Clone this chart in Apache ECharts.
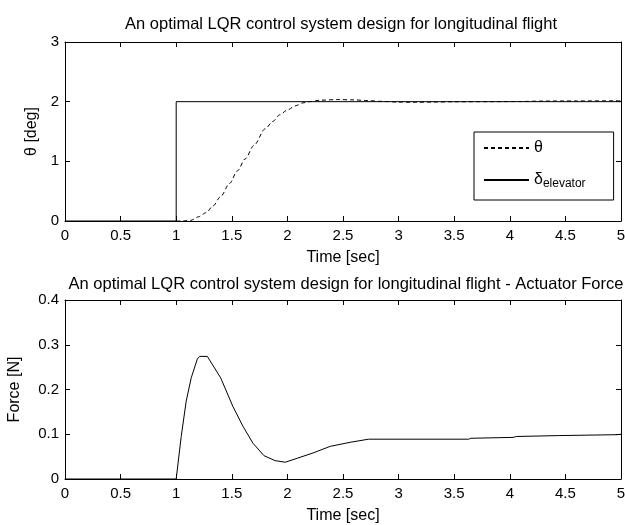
<!DOCTYPE html>
<html>
<head>
<meta charset="utf-8">
<script src="https://cdn.jsdelivr.net/npm/echarts@6/dist/echarts.min.js"></script>
<style>
  html, body { margin: 0; padding: 0; background: #fff; }
  #chart { width: 625px; height: 525px; }
</style>
</head>
<body>
<div id="chart"></div>
<script>
// time axis ticks
var xTicks = [0, 0.5, 1, 1.5, 2, 2.5, 3, 3.5, 4, 4.5, 5];

// pitch angle theta [deg]
var thetaT = [1.0, 1.06, 1.13, 1.2, 1.27, 1.33, 1.4, 1.48, 1.55, 1.62, 1.7, 1.8, 1.87, 1.93, 2.0, 2.07, 2.14, 2.2,
  2.3, 2.45, 2.6, 2.7, 2.85, 3.0, 3.15, 3.3, 3.5, 3.8, 4.1, 4.3, 4.6, 5.0];
var theta = [0, 0.0, 0.01, 0.07, 0.14, 0.25, 0.41, 0.63, 0.84, 1.04, 1.27, 1.545, 1.67, 1.78, 1.86, 1.93, 1.98, 2.0,
  2.025, 2.035, 2.03, 2.02, 2.005, 1.993, 1.99, 1.993, 1.998, 2.0, 2.003, 2.01, 2.012, 2.015];

// elevator command (step)
var deltaT = [0, 1, 1, 5];
var delta = [0, 0, 2, 2];

// actuator force [N]
var forceT = [0, 1.0, 1.045, 1.09, 1.135, 1.19, 1.21, 1.28, 1.4, 1.51, 1.6, 1.69, 1.79, 1.89, 1.98, 2.09, 2.24,
  2.385, 2.565, 2.73, 3.63, 3.65, 4.03, 4.06, 4.44, 4.45, 4.96, 5.0];
var force = [0, 0, 0.095, 0.174, 0.226, 0.268, 0.274, 0.274, 0.226, 0.162, 0.118, 0.080, 0.052, 0.041, 0.0375, 0.0465, 0.059,
  0.073, 0.082, 0.089, 0.089, 0.091, 0.093, 0.095, 0.097, 0.099, 0.099, 0.1];

function pairs(xs, ys) {
  return xs.map(function (x, i) { return [x, ys[i]]; });
}

var FONT = 'Liberation Sans';
var chart = echarts.init(document.getElementById('chart'));

function xAx(grid, pos, labels, name, gap) {
  return {
    type: 'value', gridIndex: grid, position: pos, min: 0, max: 5, interval: 0.5,
    axisLine: { show: true, onZero: false, lineStyle: { color: '#000', width: 1 } },
    axisTick: { show: true, inside: true, length: 5, lineStyle: { color: '#000' } },
    axisLabel: { show: labels, color: '#000', fontFamily: FONT, fontSize: 15, margin: 7 },
    splitLine: { show: false },
    name: name, nameLocation: 'middle', nameGap: gap,
    nameTextStyle: { color: '#000', fontFamily: FONT, fontSize: 16 }
  };
}
function yAx(grid, pos, labels, max, step, name, gap) {
  return {
    type: 'value', gridIndex: grid, position: pos, min: 0, max: max, interval: step,
    axisLine: { show: true, onZero: false, lineStyle: { color: '#000', width: 1 } },
    axisTick: { show: true, inside: true, length: 5, lineStyle: { color: '#000' } },
    axisLabel: { show: labels, color: '#000', fontFamily: FONT, fontSize: 15, margin: 6 },
    splitLine: { show: false },
    name: name, nameLocation: 'middle', nameGap: gap,
    nameTextStyle: { color: '#000', fontFamily: FONT, fontSize: 16 }
  };
}

option = {
  backgroundColor: '#fff',
  animation: false,
  title: [
    {
      text: 'An optimal LQR control system design for longitudinal flight',
      left: 336, top: 11, textAlign: 'center',
      textStyle: { color: '#000', fontFamily: FONT, fontSize: 16.5, fontWeight: 'normal' }
    },
    {
      text: 'An optimal LQR control system design for longitudinal flight - Actuator Force',
      left: 341, top: 271, textAlign: 'center',
      textStyle: { color: '#000', fontFamily: FONT, fontSize: 16.5, fontWeight: 'normal' }
    }
  ],
  grid: [
    { left: 65, right: 4, top: 42, height: 179, outerBoundsMode: 'none', containLabel: false },
    { left: 65, right: 4, top: 300, height: 179, outerBoundsMode: 'none', containLabel: false }
  ],
  xAxis: [
    xAx(0, 'bottom', true, 'Time [sec]', 29),
    xAx(0, 'top', false, '', 0),
    xAx(1, 'bottom', true, 'Time [sec]', 29),
    xAx(1, 'top', false, '', 0)
  ],
  yAxis: [
    yAx(0, 'left', true, 3, 1, 'θ [deg]', 23),
    yAx(0, 'right', false, 3, 1, '', 0),
    yAx(1, 'left', true, 0.4, 0.1, 'Force [N]', 42),
    yAx(1, 'right', false, 0.4, 0.1, '', 0)
  ],
  legend: {
    orient: 'vertical',
    left: 474, top: 132,
    backgroundColor: '#fff',
    borderColor: '#000', borderWidth: 1,
    padding: [8, 28, 10, 9],
    itemWidth: 45, itemHeight: 14, itemGap: 16,
    itemStyle: { opacity: 0 },
    data: ['θ', 'δ'],
    formatter: function (name) {
      return name === 'δ' ? '{a|δ}{b|elevator}' : '{a|θ}';
    },
    textStyle: {
      color: '#000', fontFamily: FONT, fontSize: 16,
      rich: {
        a: { fontFamily: FONT, fontSize: 16, color: '#000' },
        b: { fontFamily: FONT, fontSize: 12, color: '#000', verticalAlign: 'bottom', padding: [8, 0, 0, 0] }
      }
    }
  },
  series: [
    {
      name: 'θ', type: 'line', xAxisIndex: 0, yAxisIndex: 0,
      symbol: 'none', smooth: 0.3, smoothMonotone: 'x',
      lineStyle: { color: '#000', width: 1, type: [4, 3] },
      itemStyle: { color: '#000' },
      data: pairs(thetaT, theta)
    },
    {
      name: 'δ', type: 'line', xAxisIndex: 0, yAxisIndex: 0,
      symbol: 'none',
      lineStyle: { color: '#000', width: 1 },
      itemStyle: { color: '#000' },
      data: pairs(deltaT, delta)
    },
    {
      name: 'Force', type: 'line', xAxisIndex: 2, yAxisIndex: 2,
      symbol: 'none',
      lineStyle: { color: '#000', width: 1 },
      itemStyle: { color: '#000' },
      data: pairs(forceT, force)
    }
  ]
};

chart.setOption(option);
</script>
</body>
</html>
